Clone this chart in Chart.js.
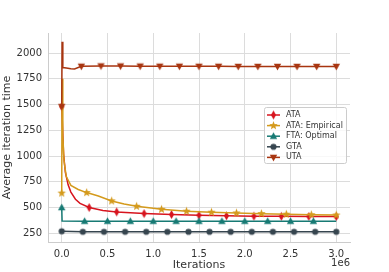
<!DOCTYPE html>
<html>
<head>
<meta charset="utf-8">
<script src="https://cdn.jsdelivr.net/npm/chart.js@4.4.1/dist/chart.umd.min.js"></script>
<style>
  html, body { margin: 0; padding: 0; background: #fff; }
  #wrap { width: 389px; height: 272px; }
</style>
</head>
<body>
<div id="wrap"><canvas id="chart" width="389" height="272"></canvas></div>
<script>
// x values are in units of 1e6 iterations
const seriesNames = ['ATA', 'ATA: Empirical', 'FTA: Optimal', 'GTA', 'UTA'];

const ataX = [0, 0.01, 0.02, 0.04, 0.07, 0.1, 0.15, 0.2, 0.3, 0.45, 0.6, 0.75, 0.9, 1.2, 1.5, 1.8, 2.1, 2.4, 2.7, 3.0];
const ataY = [1480, 1250, 1020, 840, 720, 650, 580, 540, 500, 472, 457, 448, 441, 432, 425, 419, 416, 414, 413, 412];
const ataM = [1, 0, 0, 0, 0, 0, 0, 0, 1, 0, 1, 0, 1, 1, 1, 1, 1, 1, 1, 1];

const empX = [0, 0.004, 0.012, 0.025, 0.05, 0.1, 0.18, 0.2727, 0.4, 0.5455, 0.6818, 0.8182, 1.0909, 1.3636, 1.6364, 1.9091, 2.1818, 2.4545, 2.7273, 3.0];
const empY = [640, 1750, 1200, 950, 800, 715, 675, 645, 612, 564, 534, 512, 483, 464, 454, 447, 440, 435, 430, 427];
const empM = [1, 0, 0, 0, 0, 0, 0, 1, 0, 1, 0, 1, 1, 1, 1, 1, 1, 1, 1, 1];

const ftaX = [0, 0.004, 0.25, 0.5, 0.75, 1.0, 1.25, 1.5, 1.75, 2.0, 2.25, 2.5, 2.75, 3.0];
const ftaY = [500, 368, 367, 367, 367, 367, 367, 367, 367, 367, 367, 367, 367, 367];
const ftaM = [1, 0, 1, 1, 1, 1, 1, 1, 1, 1, 1, 1, 1, 0];

const gtaX = [0, 0.2308, 0.4615, 0.6923, 0.9231, 1.1538, 1.3846, 1.6154, 1.8462, 2.0769, 2.3077, 2.5385, 2.7692, 3.0];
const gtaY = [270, 264, 264, 264, 264, 264, 264, 264, 264, 264, 264, 264, 264, 264];
const gtaM = [1, 1, 1, 1, 1, 1, 1, 1, 1, 1, 1, 1, 1, 1];

const utaX = [0, 0.004, 0.012, 0.05, 0.1, 0.14, 0.2143, 0.4286, 0.6429, 0.8571, 1.0714, 1.2857, 1.5, 1.7143, 1.9286, 2.1429, 2.3571, 2.5714, 2.7857, 3.0];
const utaY = [1480, 2110, 1860, 1855, 1848, 1845, 1872, 1875, 1874, 1873, 1872, 1872, 1871, 1871, 1870, 1870, 1870, 1870, 1870, 1870];
const utaM = [1, 0, 0, 0, 0, 0, 1, 1, 1, 1, 1, 1, 1, 1, 1, 1, 1, 1, 1, 1];

const xTicks = [0, 0.5, 1.0, 1.5, 2.0, 2.5, 3.0];
const xTickLabels = ['0.0', '0.5', '1.0', '1.5', '2.0', '2.5', '3.0'];
const yTicks = [250, 500, 750, 1000, 1250, 1500, 1750, 2000];

const colors = ['#d7141e', '#d49a1c', '#177a74', '#36454f', '#a83510'];

function makeMarker(shape, color) {
    const c = document.createElement('canvas');
    c.width = 11; c.height = 11;
    const g = c.getContext('2d');
    g.fillStyle = color;
    g.translate(5.5, 5.5);
    g.beginPath();
    if (shape === 'circle') {
        g.arc(0, 0, 3.1, 0, Math.PI * 2);
    } else if (shape === 'diamond') {
        g.moveTo(0, -4.6); g.lineTo(2.5, 0); g.lineTo(0, 4.6); g.lineTo(-2.5, 0);
    } else if (shape === 'tri-up') {
        g.moveTo(0, -4); g.lineTo(3.7, 2.7); g.lineTo(-3.7, 2.7);
    } else if (shape === 'tri-down') {
        g.moveTo(0, 4); g.lineTo(3.7, -2.7); g.lineTo(-3.7, -2.7);
    } else if (shape === 'star') {
        for (let i = 0; i < 10; i++) {
            const r = i % 2 === 0 ? 4.5 : 1.9;
            const a = -Math.PI / 2 + i * Math.PI / 5;
            if (i === 0) g.moveTo(r * Math.cos(a), r * Math.sin(a));
            else g.lineTo(r * Math.cos(a), r * Math.sin(a));
        }
    }
    g.closePath();
    g.fill();
    return c;
}

const markers = [
    makeMarker('diamond', colors[0]),
    makeMarker('star', colors[1]),
    makeMarker('tri-up', colors[2]),
    makeMarker('circle', colors[3]),
    makeMarker('tri-down', colors[4])
];

function toPoints(xs, ys) {
    return xs.map((x, i) => ({ x: x, y: ys[i] }));
}

const allX = [ataX, empX, ftaX, gtaX, utaX];
const allY = [ataY, empY, ftaY, gtaY, utaY];
const allM = [ataM, empM, ftaM, gtaM, utaM];

const datasets = seriesNames.map((name, i) => ({
    label: name,
    data: toPoints(allX[i], allY[i]),
    showLine: true,
    borderColor: colors[i],
    backgroundColor: colors[i],
    borderWidth: 1.5,
    tension: 0,
    pointStyle: markers[i],
    pointRadius: (ctx) => allM[i][ctx.dataIndex] ? 3 : 0,
    order: seriesNames.length - i
}));

const legendPlugin = {
    id: 'boxLegend',
    afterDraw(chart) {
        const g = chart.ctx;
        const x0 = 264, y0 = 107, w = 82, h = 56;
        g.save();
        g.fillStyle = 'rgba(255,255,255,0.8)';
        g.strokeStyle = '#cccccc';
        g.lineWidth = 1;
        g.beginPath();
        g.roundRect(x0 + 0.5, y0 + 0.5, w, h, 2);
        g.fill();
        g.stroke();
        g.font = '8px "DejaVu Sans"';
        g.textBaseline = 'middle';
        g.textAlign = 'left';
        seriesNames.forEach((name, i) => {
            const y = 115 + i * 10.6;
            g.strokeStyle = colors[i];
            g.lineWidth = 1.5;
            g.beginPath();
            g.moveTo(267, y);
            g.lineTo(280, y);
            g.stroke();
            g.drawImage(markers[i], 273.5 - 5.5, y - 5.5);
            g.fillStyle = '#333333';
            g.fillText(name, 286, y);
        });
        // axis offset text
        g.font = '10px "DejaVu Sans"';
        g.textAlign = 'right';
        g.fillStyle = '#333333';
        g.fillText('1e6', 350, 263);
        g.restore();
    }
};

const gridColor = '#dcdcdc';

new Chart(document.getElementById('chart').getContext('2d'), {
    type: 'scatter',
    data: { datasets: datasets },
    options: {
        responsive: false,
        animation: false,
        events: [],
        layout: { padding: { top: 33, right: 39, left: 0, bottom: 0 } },
        plugins: {
            legend: { display: false },
            tooltip: { enabled: false }
        },
        scales: {
            x: {
                type: 'linear',
                min: -0.15,
                max: 3.15,
                afterBuildTicks: (scale) => { scale.ticks = xTicks.map(v => ({ value: v })); },
                afterFit: (scale) => { scale.height = 30; },
                ticks: {
                    callback: (v) => xTickLabels[xTicks.indexOf(v)],
                    font: { family: 'DejaVu Sans', size: 10 },
                    color: '#333333',
                    padding: 6,
                    maxRotation: 0
                },
                grid: { color: gridColor, drawTicks: false },
                border: { color: '#cccccc' },
                title: {
                    display: true,
                    text: 'Iterations',
                    font: { family: 'DejaVu Sans', size: 11 },
                    color: '#333333',
                    padding: { top: 0, bottom: 0 }
                }
            },
            y: {
                type: 'linear',
                min: 165,
                max: 2195,
                afterBuildTicks: (scale) => { scale.ticks = yTicks.map(v => ({ value: v })); },
                afterFit: (scale) => { scale.width = 48; },
                ticks: {
                    callback: (v) => String(v),
                    font: { family: 'DejaVu Sans', size: 10 },
                    color: '#333333',
                    padding: 6
                },
                grid: { color: gridColor, drawTicks: false },
                border: { color: '#cccccc' },
                title: {
                    display: true,
                    text: 'Average iteration time',
                    font: { family: 'DejaVu Sans', size: 11 },
                    color: '#333333',
                    padding: { top: 1, bottom: 0 }
                }
            }
        }
    },
    plugins: [legendPlugin]
});
</script>
</body>
</html>
